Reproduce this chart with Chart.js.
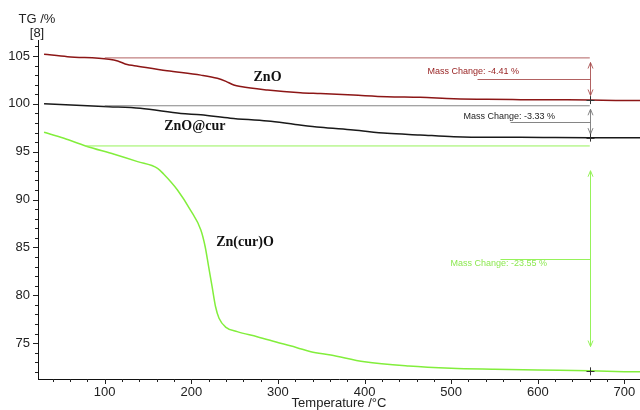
<!DOCTYPE html>
<html>
<head>
<meta charset="utf-8">
<script src="https://cdn.jsdelivr.net/npm/chart.js@4.4.0/dist/chart.umd.min.js"></script>
<style>
  html, body { margin: 0; padding: 0; background: #fff; }
  #tg { display: block; }
</style>
</head>
<body>
<canvas id="tg" width="640" height="410"></canvas>
<script>
// curvas TG (temperatura en °C, masa en %)
const tempZnO = [30, 57, 105, 115, 126, 134, 172, 211, 230, 240, 249, 257, 288, 326, 349, 387, 426, 464, 503, 541, 580, 620, 660, 690, 718]
const masaZnO = [105.18, 104.93, 104.65, 104.48, 104.1, 103.99, 103.46, 103.0, 102.67, 102.35, 101.97, 101.8, 101.45, 101.17, 101.08, 100.92, 100.75, 100.68, 100.54, 100.47, 100.44, 100.42, 100.4, 100.36, 100.35]

const tempCur = [30, 105, 141, 188, 211, 245, 288, 320, 349, 387, 426, 464, 503, 541, 580, 620, 660, 690, 718]
const masaCur = [100.0, 99.7, 99.53, 99.0, 98.85, 98.5, 98.2, 97.85, 97.55, 97.27, 96.92, 96.75, 96.57, 96.5, 96.5, 96.48, 96.46, 96.45, 96.46]

const tempZnCur = [30, 53, 78, 111, 138, 161, 168, 184, 199, 211, 216, 220, 224, 228, 232, 240, 253, 276, 303, 322, 338, 361, 400, 451, 500, 550, 600, 660, 700, 718]
const masaZnCur = [97.03, 96.4, 95.6, 94.73, 93.96, 93.26, 92.67, 91.0, 88.9, 86.82, 85.07, 82.98, 80.9, 78.8, 77.6, 76.65, 76.2, 75.67, 74.98, 74.52, 74.1, 73.76, 73.05, 72.6, 72.37, 72.27, 72.19, 72.12, 72.02, 72.0]

// cambios de masa: inicio de la linea de referencia, valor de referencia, valor final a 660 °C
const nombres = ['ZnO', 'ZnO@cur', 'Zn(cur)O']
const refInicio = [100, 100, 78]
const refValor = [104.8, 99.8, 95.6]
const finValor = [100.39, 96.47, 72.05]
const tempMedida = 660
const textosCambio = ['Mass Change: -4.41 %', 'Mass Change: -3.33 %', 'Mass Change: -23.55 %']

// posicion de las etiquetas de cada curva (°C, %)
const etiquetaTemp = [288, 204, 262]
const etiquetaMasa = [102.8, 97.6, 85.56]

// ticks de los ejes
const ticksX = [40, 60, 80, 100, 120, 140, 160, 180, 200, 220, 240, 260, 280, 300, 320, 340, 360, 380, 400, 420, 440, 460, 480, 500, 520, 540, 560, 580, 600, 620, 640, 660, 680, 700]
const ticksY = [72, 73, 74, 75, 76, 77, 78, 79, 80, 81, 82, 83, 84, 85, 86, 87, 88, 89, 90, 91, 92, 93, 94, 95, 96, 97, 98, 99, 100, 101, 102, 103, 104, 105, 106]

const colores = ['rgb(140, 22, 22)', 'rgb(25, 25, 25)', 'rgb(130, 238, 60)']
const coloresRef = ['rgba(165, 70, 70, 0.85)', 'rgba(120, 120, 120, 0.9)', 'rgb(150, 242, 90)']
const coloresTexto = ['rgb(150, 30, 30)', 'rgb(30, 30, 30)', 'rgb(140, 232, 80)']

const fuente = "'Liberation Sans', Arial, sans-serif"

const curva = (T, V, color) => ({
    data: T.map((t, i) => ({ x: t, y: V[i] })),
    borderColor: color,
    borderWidth: 1.5,
    pointRadius: 0,
    fill: false,
    cubicInterpolationMode: 'monotone'
})

const referencia = (i) => ({
    data: [{ x: refInicio[i], y: refValor[i] }, { x: tempMedida, y: refValor[i] }],
    borderColor: coloresRef[i],
    borderWidth: 1,
    pointRadius: 0,
    fill: false
})

// dibuja ticks menores/mayores, flechas de cambio de masa y textos
const extras = {
    id: 'extras',
    afterDatasetsDraw(chart) {
        const ctx = chart.ctx
        const x = chart.scales.x
        const y = chart.scales.y
        const area = chart.chartArea
        ctx.save()

        // ticks de los ejes
        ctx.strokeStyle = '#222'
        ctx.lineWidth = 1
        ctx.beginPath()
        ticksX.forEach(t => {
            const px = Math.round(x.getPixelForValue(t)) + 0.5
            const largo = t % 100 === 0 ? 5 : 3
            ctx.moveTo(px, area.bottom)
            ctx.lineTo(px, area.bottom + largo)
        })
        ticksY.forEach(v => {
            const py = Math.round(y.getPixelForValue(v)) + 0.5
            const largo = v % 5 === 0 ? 5 : 3
            ctx.moveTo(area.left, py)
            ctx.lineTo(area.left - largo, py)
        })
        ctx.stroke()

        // flechas de cambio de masa
        const vx = Math.round(x.getPixelForValue(tempMedida)) + 0.5
        const desplTexto = [-163, -127, -140]
        const desplLinea = [-113, -80, -90]
        const altoTexto = [-8, -6, 4]
        nombres.forEach((n, i) => {
            const yTop = y.getPixelForValue(refValor[i])
            const yBot = y.getPixelForValue(finValor[i])
            const margen = (yBot - yTop) * 0.11
            const a = yTop + margen
            const b = yBot - margen
            ctx.strokeStyle = coloresRef[i]
            ctx.lineWidth = 1
            ctx.beginPath()
            ctx.moveTo(vx, a)
            ctx.lineTo(vx, b)
            // puntas de flecha
            ctx.moveTo(vx - 2.5, a + 6)
            ctx.lineTo(vx, a)
            ctx.lineTo(vx + 2.5, a + 6)
            ctx.moveTo(vx - 2.5, b - 6)
            ctx.lineTo(vx, b)
            ctx.lineTo(vx + 2.5, b - 6)
            // linea guia al texto
            const ym = Math.round((yTop + yBot) / 2) + 0.5
            ctx.moveTo(vx + desplLinea[i], ym)
            ctx.lineTo(vx, ym)
            ctx.stroke()

            // cruz en el punto final
            ctx.strokeStyle = '#333'
            ctx.beginPath()
            ctx.moveTo(vx - 4, Math.round(yBot) + 0.5)
            ctx.lineTo(vx + 4, Math.round(yBot) + 0.5)
            ctx.moveTo(vx, yBot - 4)
            ctx.lineTo(vx, yBot + 4)
            ctx.stroke()

            ctx.fillStyle = coloresTexto[i]
            ctx.font = '9px ' + fuente
            ctx.textAlign = 'left'
            ctx.textBaseline = 'middle'
            ctx.fillText(textosCambio[i], vx + desplTexto[i], ym + altoTexto[i])
        })

        // nombres de las muestras
        ctx.fillStyle = '#111'
        ctx.font = "bold 14px 'Liberation Serif', 'Times New Roman', serif"
        ctx.textAlign = 'center'
        ctx.textBaseline = 'middle'
        nombres.forEach((n, i) => {
            ctx.fillText(n, x.getPixelForValue(etiquetaTemp[i]), y.getPixelForValue(etiquetaMasa[i]))
        })

        // titulo del eje y
        ctx.fillStyle = '#222'
        ctx.font = '13px ' + fuente
        ctx.fillText('TG /%', area.left - 1, 19)
        ctx.fillText('[8]', area.left - 1, 33)
        ctx.restore()
    }
}

const canvas = document.getElementById('tg')
new Chart(canvas, {
    type: 'line',
    data: {
        datasets: [
            referencia(0), referencia(1), referencia(2),
            curva(tempZnO, masaZnO, colores[0]),
            curva(tempCur, masaCur, colores[1]),
            curva(tempZnCur, masaZnCur, colores[2])
        ]
    },
    options: {
        responsive: false,
        animation: false,
        devicePixelRatio: 1,
        layout: { padding: { top: 40, right: 0, left: 0, bottom: 0 } },
        plugins: { legend: { display: false }, tooltip: { enabled: false } },
        scales: {
            x: {
                type: 'linear',
                min: 23,
                max: 718,
                afterBuildTicks: (s) => { s.ticks = ticksX.map(v => ({ value: v })) },
                afterFit: (s) => { s.height = 31 },
                grid: { display: true, drawOnChartArea: false, tickLength: 5, tickColor: 'rgba(0,0,0,0)' },
                border: { display: true, color: '#111', width: 1 },
                ticks: {
                    autoSkip: false,
                    maxRotation: 0,
                    padding: 1,
                    color: '#222',
                    font: { family: fuente, size: 13 },
                    callback: (v) => v % 100 === 0 ? String(v) : ''
                },
                title: {
                    display: true,
                    text: 'Temperature /°C',
                    color: '#222',
                    padding: 0,
                    font: { family: fuente, size: 13, lineHeight: 1 }
                }
            },
            y: {
                min: 71.25,
                max: 106.67,
                afterBuildTicks: (s) => { s.ticks = ticksY.map(v => ({ value: v })) },
                afterFit: (s) => { s.width = 38 },
                grid: { display: true, drawOnChartArea: false, tickLength: 5, tickColor: 'rgba(0,0,0,0)' },
                border: { display: true, color: '#111', width: 1 },
                ticks: {
                    autoSkip: false,
                    padding: 3,
                    color: '#222',
                    font: { family: fuente, size: 13 },
                    callback: (v) => v % 5 === 0 ? String(v) : ''
                }
            }
        }
    },
    plugins: [extras]
})
</script>
</body>
</html>
